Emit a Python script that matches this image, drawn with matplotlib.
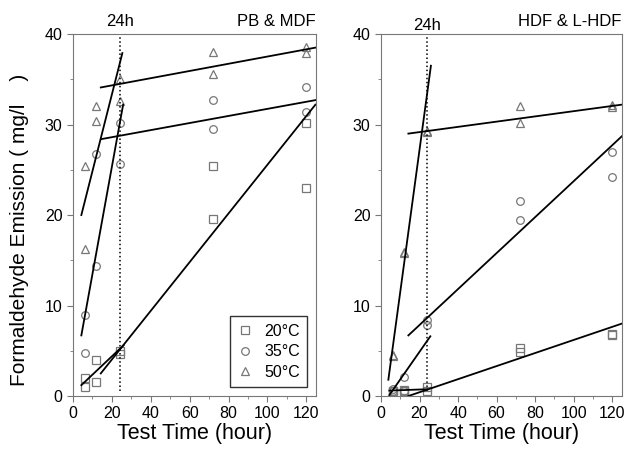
import numpy as np
import matplotlib.pyplot as plt
from matplotlib.ticker import MultipleLocator

plt.rcParams['font.family'] = ['Liberation Sans', 'DejaVu Sans']

# PB & MDF measurements (time in hours, emission in mg/l)
pb_t20 = [6, 6, 12, 12, 24, 24, 72, 72, 120, 120]
pb_y20 = [1.0, 2.0, 1.5, 4.0, 4.6, 5.0, 25.4, 19.6, 30.2, 23.0]
pb_t35 = [6, 6, 12, 12, 24, 24, 72, 72, 120, 120]
pb_y35 = [4.7, 9.0, 14.4, 26.7, 30.2, 25.6, 32.7, 29.5, 34.1, 31.4]
pb_t50 = [6, 6, 12, 12, 24, 24, 72, 72, 120, 120]
pb_y50 = [25.4, 16.3, 32.0, 30.4, 35.0, 32.6, 38.0, 35.6, 38.6, 37.9]

# HDF & L-HDF measurements
hdf_t20 = [6, 6, 12, 12, 24, 24, 72, 72, 120, 120]
hdf_y20 = [0.6, 0.5, 0.7, 0.5, 1.0, 0.5, 5.3, 4.9, 6.9, 6.7]
hdf_t35 = [6, 6, 12, 12, 24, 24, 72, 72, 120, 120]
hdf_y35 = [0.8, 0.6, 2.1, 0.6, 8.4, 7.9, 21.5, 19.4, 27.0, 24.2]
hdf_t50 = [6, 6, 12, 12, 24, 24, 72, 72, 120, 120]
hdf_y50 = [4.5, 4.4, 15.9, 15.8, 29.3, 29.2, 32.0, 30.2, 32.2, 31.9]

# fitted lines: (x-ends, y-ends)
pb_fits = [
    ([4.3, 26.0], [1.2, 5.6]),
    ([14.3, 124.7], [2.5, 32.2]),
    ([4.3, 25.8], [6.7, 32.2]),
    ([14.8, 124.7], [28.4, 32.7]),
    ([4.3, 25.4], [20.0, 37.9]),
    ([14.3, 124.7], [34.1, 38.5]),
]
hdf_fits = [
    ([4.3, 24.2], [0.6, 0.75]),
    ([14.2, 125.0], [0.0, 8.0]),
    ([4.3, 25.6], [0.1, 6.6]),
    ([14.2, 125.0], [6.7, 28.7]),
    ([3.8, 25.9], [1.8, 36.5]),
    ([14.2, 125.0], [29.0, 32.2]),
]

temps = ['20°C', '35°C', '50°C']
markers = ['s', 'o', '^']

fig = plt.figure(figsize=(6.27, 4.53), dpi=100)
ax1 = fig.add_axes([0.1164, 0.1258, 0.3876, 0.799])
ax2 = fig.add_axes([0.6077, 0.1258, 0.3840, 0.799])

panels = [
    (ax1, [(pb_t20, pb_y20), (pb_t35, pb_y35), (pb_t50, pb_y50)], pb_fits, 'PB & MDF', 40.6),
    (ax2, [(hdf_t20, hdf_y20), (hdf_t35, hdf_y35), (hdf_t50, hdf_y50)], hdf_fits, 'HDF & L-HDF', 40.1),
]

for ax, series, fits, name, y24 in panels:
    for (t, y), m, lab in zip(series, markers, temps):
        ax.plot(t, y, linestyle='none', marker=m, markersize=5.5,
                markerfacecolor='none', markeredgecolor='#777777',
                markeredgewidth=0.9, label=lab)
    for xs, ys in fits:
        ax.plot(xs, ys, color='black', linewidth=1.3)
    ax.plot([24, 24], [0.5, 40], linestyle=':', color='black', linewidth=1.1)
    ax.set_xlim(0, 125)
    ax.set_ylim(0, 40)
    ax.xaxis.set_major_locator(MultipleLocator(20))
    ax.xaxis.set_minor_locator(MultipleLocator(10))
    ax.yaxis.set_major_locator(MultipleLocator(10))
    ax.yaxis.set_minor_locator(MultipleLocator(5))
    ax.tick_params(which='both', direction='out', labelsize=11.5, color='#777777')
    ax.tick_params(which='major', length=4)
    ax.tick_params(which='minor', length=2.5)
    for sp in ax.spines.values():
        sp.set_color('#777777')
    ax.set_xlabel('Test Time (hour)', fontsize=15.5, labelpad=1)
    ax.text(24, y24, '24h', ha='center', va='bottom', fontsize=12, clip_on=False)
    ax.text(125, 40.6, name, ha='right', va='bottom', fontsize=12)

ax1.set_ylabel('Formaldehyde Emission ( mg/l    )', fontsize=15)
ax1.yaxis.set_label_coords(-0.183, 0.46)

leg = ax1.legend(loc='lower right', bbox_to_anchor=(0.963, 0.025), fontsize=11.5,
                 frameon=True, fancybox=False, handlelength=1.0,
                 handletextpad=0.7, borderpad=0.45, labelspacing=0.35,
                 borderaxespad=0)
leg.get_frame().set_edgecolor('black')
leg.get_frame().set_linewidth(1.0)

fig.savefig('out.png', dpi=100)
